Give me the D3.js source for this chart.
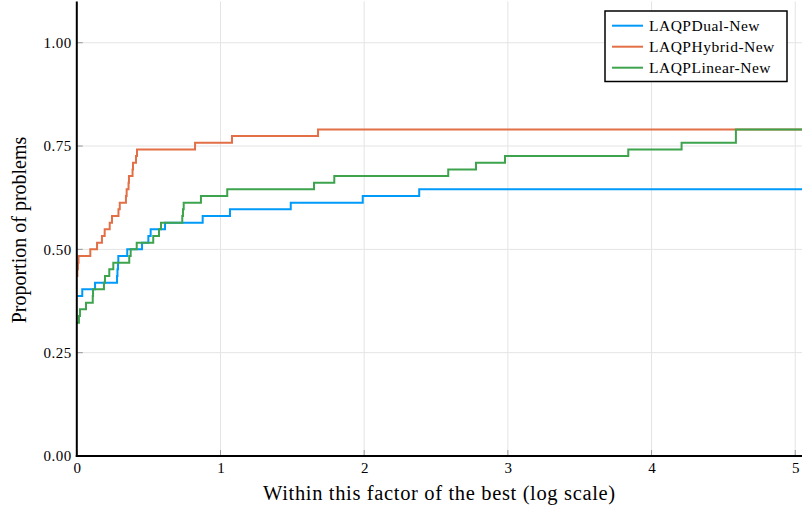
<!DOCTYPE html>
<html>
<head>
<meta charset="utf-8">
<script src="https://cdn.jsdelivr.net/npm/d3@7"></script>
<style>
  body { margin: 0; background: #fff; }
  svg { display: block; }
  text { font-family: "Liberation Serif", "DejaVu Serif", serif; fill: #000; }
</style>
</head>
<body>
<div id="chart"></div>
<script>
// performance profile, 62 problems, x is log2 of the ratio to the best
const nProblems = 62;
const solverNames = ["LAQPDual-New", "LAQPHybrid-New", "LAQPLinear-New"];
const solverColors = ["#009af9", "#e26f46", "#3da44d"];

const dualTau = [0, 0.038, 0.127, 0.280, 0.283, 0.287, 0.289, 0.351, 0.454, 0.498, 0.514, 0.614, 0.876, 1.066, 1.489, 1.990, 2.383];
const dualSolved = [24, 25, 26, 27, 28, 29, 30, 31, 32, 33, 34, 35, 36, 37, 38, 39, 40];

const hybridTau = [0, 0.004, 0.008, 0.012, 0.094, 0.141, 0.175, 0.194, 0.229, 0.245, 0.290, 0.299, 0.342, 0.347, 0.360, 0.363, 0.388, 0.391, 0.412, 0.419, 0.823, 1.080, 1.679];
const hybridSolved = [27, 28, 29, 30, 31, 32, 33, 34, 35, 36, 37, 38, 39, 40, 41, 42, 43, 44, 45, 46, 47, 48, 49];

const linearTau = [0, 0.015, 0.022, 0.064, 0.111, 0.113, 0.189, 0.196, 0.226, 0.254, 0.365, 0.375, 0.417, 0.532, 0.572, 0.586, 0.734, 0.739, 0.744, 0.864, 1.047, 1.651, 1.792, 2.585, 2.778, 2.980, 3.838, 4.209, 4.587];
const linearSolved = [20, 21, 22, 23, 24, 25, 26, 27, 28, 29, 30, 31, 32, 33, 34, 35, 36, 37, 38, 39, 40, 41, 42, 43, 44, 45, 46, 47, 49];

const xTicks = [0, 1, 2, 3, 4, 5];
const yTicks = [0, 0.25, 0.5, 0.75, 1.0];
const xMax = 5.047;
const yMax = 1.1;

const width = 802;
const height = 512;
const margin = { top: 1.4, right: 0, bottom: 56, left: 76.8 };

const svg = d3.select("#chart")
    .append("svg")
    .attr("width", width)
    .attr("height", height);

const x = d3.scaleLinear()
    .domain([0, xMax])
    .range([margin.left, width - margin.right]);

const y = d3.scaleLinear()
    .domain([0, yMax])
    .range([height - margin.bottom, margin.top]);

// grid
svg.append("g")
    .selectAll("line")
    .data(xTicks.slice(1))
    .join("line")
    .attr("x1", d => x(d)).attr("x2", d => x(d))
    .attr("y1", y(0)).attr("y2", y(yMax))
    .attr("stroke", "#e4e4e4").attr("stroke-width", 1);

svg.append("g")
    .selectAll("line")
    .data(yTicks.slice(1))
    .join("line")
    .attr("x1", x(0)).attr("x2", x(xMax))
    .attr("y1", d => y(d)).attr("y2", d => y(d))
    .attr("stroke", "#e4e4e4").attr("stroke-width", 1);

// axes (labels only, lines drawn below)
const xAxis = svg.append("g")
    .attr("transform", `translate(0,${y(0)})`)
    .call(d3.axisBottom(x).tickValues(xTicks).tickFormat(d3.format("d")).tickSize(0).tickPadding(6));
xAxis.select(".domain").remove();
xAxis.selectAll("text")
    .attr("font-size", 15).attr("font-family", "Liberation Serif");

const yAxis = svg.append("g")
    .attr("transform", `translate(${x(0)},0)`)
    .call(d3.axisLeft(y).tickValues(yTicks).tickFormat(d3.format(".2f")).tickSize(0).tickPadding(5));
yAxis.select(".domain").remove();
yAxis.selectAll("text")
    .attr("font-size", 15).attr("font-family", "Liberation Serif")
    .attr("letter-spacing", 0.5);

// small inner tick marks
svg.append("g")
    .selectAll("line")
    .data(xTicks)
    .join("line")
    .attr("x1", d => x(d)).attr("x2", d => x(d))
    .attr("y1", y(0)).attr("y2", y(0) - 6)
    .attr("stroke", "#999").attr("stroke-width", 1);

svg.append("g")
    .selectAll("line")
    .data(yTicks)
    .join("line")
    .attr("x1", x(0)).attr("x2", x(0) + 6)
    .attr("y1", d => y(d)).attr("y2", d => y(d))
    .attr("stroke", "#999").attr("stroke-width", 1);

// series
const series = [
    { name: solverNames[0], color: solverColors[0], tau: dualTau, solved: dualSolved },
    { name: solverNames[1], color: solverColors[1], tau: hybridTau, solved: hybridSolved },
    { name: solverNames[2], color: solverColors[2], tau: linearTau, solved: linearSolved }
];

const line = d3.line()
    .x(d => x(d[0]))
    .y(d => y(d[1]))
    .curve(d3.curveStepAfter);

series.forEach(s => {
    const pts = s.tau.map((t, i) => [t, s.solved[i] / nProblems]);
    pts.push([xMax, s.solved[s.solved.length - 1] / nProblems]);
    svg.append("path")
        .datum(pts)
        .attr("fill", "none")
        .attr("stroke", s.color)
        .attr("stroke-width", 2)
        .attr("d", line);
});

// axis lines on top
svg.append("line")
    .attr("x1", x(0)).attr("x2", x(0))
    .attr("y1", y(0) + 1).attr("y2", y(yMax))
    .attr("stroke", "#000").attr("stroke-width", 2);
svg.append("line")
    .attr("x1", x(0) - 1).attr("x2", x(xMax))
    .attr("y1", y(0)).attr("y2", y(0))
    .attr("stroke", "#000").attr("stroke-width", 2);

// axis labels
svg.append("text")
    .attr("x", (x(0) + x(xMax)) / 2)
    .attr("y", 500)
    .attr("text-anchor", "middle")
    .attr("font-size", 20.5)
    .attr("letter-spacing", 0.65)
    .text("Within this factor of the best (log scale)");

svg.append("text")
    .attr("transform", "translate(26,230) rotate(-90)")
    .attr("text-anchor", "middle")
    .attr("font-size", 20)
    .text("Proportion of problems");

// legend
const legend = svg.append("g");
legend.append("rect")
    .attr("x", 605).attr("y", 11)
    .attr("width", 182).attr("height", 70.5)
    .attr("fill", "#fff")
    .attr("stroke", "#000").attr("stroke-width", 1.5);

series.forEach((s, i) => {
    const ly = 25.7 + i * 21;
    legend.append("line")
        .attr("x1", 612).attr("x2", 643)
        .attr("y1", ly).attr("y2", ly)
        .attr("stroke", s.color).attr("stroke-width", 2);
    legend.append("text")
        .attr("x", 649).attr("y", ly + 5)
        .attr("font-size", 15.5)
        .attr("letter-spacing", 0.5)
        .text(s.name);
});
</script>
</body>
</html>
